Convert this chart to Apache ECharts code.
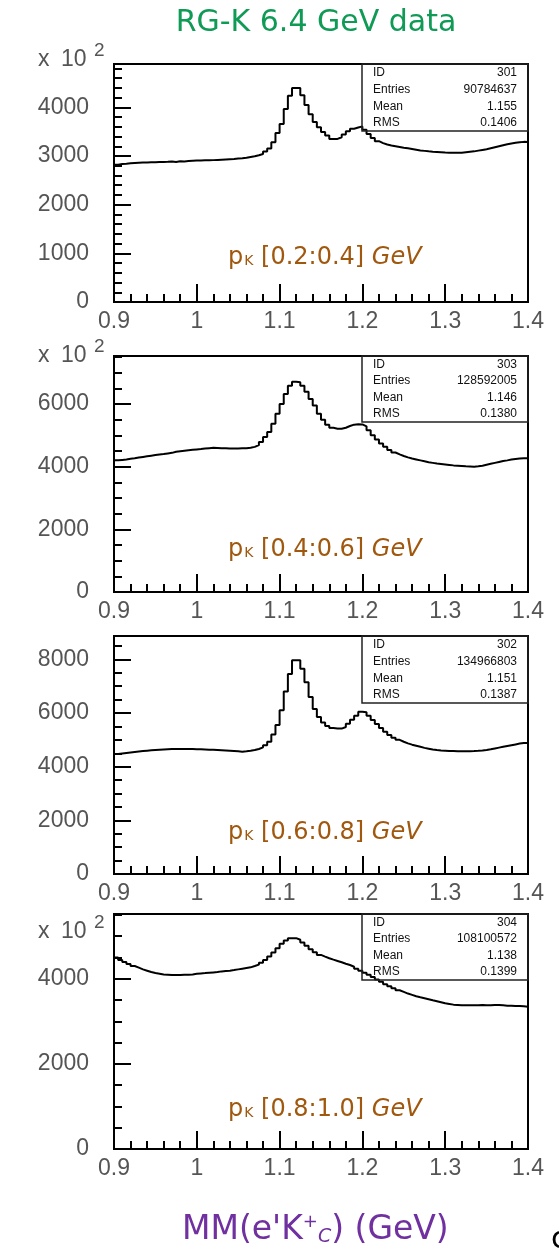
<!DOCTYPE html>
<html>
<head>
<meta charset="utf-8">
<script src="https://cdn.jsdelivr.net/npm/echarts@6/dist/echarts.min.js"></script>
<style>
  html, body { margin: 0; padding: 0; background: #fff; }
  #chart { width: 559px; height: 1248px; }
</style>
</head>
<body>
<div id="chart"></div>
<script>
// histogram binning (100 bins from 0.9 to 1.4 GeV)
const xMin = 0.9
const xMax = 1.4
const binWidth = 0.005

// counts per bin, in units of 10^2, one array per kaon momentum slice
const countsK0204 = [
  2820, 2835, 2840, 2850, 2855, 2860, 2865, 2868, 2870, 2872,
  2875, 2878, 2880, 2885, 2875, 2890, 2888, 2895, 2900, 2905,
  2908, 2910, 2912, 2915, 2920, 2925, 2930, 2935, 2940, 2948,
  2955, 2965, 2980, 2995, 3015, 3040, 3090, 3155, 3284, 3473,
  3655, 3966, 4236, 4399, 4399, 4250, 4047, 3858, 3696, 3588,
  3493, 3419, 3351, 3351, 3385, 3439, 3507, 3561, 3585, 3608,
  3540, 3453, 3372, 3304, 3264, 3236, 3215, 3200, 3185, 3170,
  3158, 3145, 3130, 3115, 3105, 3095, 3088, 3082, 3076, 3070,
  3068, 3065, 3068, 3065, 3075, 3085, 3095, 3110, 3125, 3140,
  3160, 3180, 3200, 3220, 3240, 3255, 3270, 3282, 3290, 3288
]
const countsK0406 = [
  4200, 4215, 4230, 4250, 4265, 4290, 4310, 4330, 4350, 4368,
  4385, 4400, 4420, 4440, 4474, 4490, 4505, 4520, 4535, 4548,
  4560, 4575, 4590, 4600, 4595, 4590, 4585, 4580, 4580, 4580,
  4585, 4590, 4600, 4630, 4684, 4790, 4948, 5106, 5369, 5685,
  6000, 6317, 6580, 6706, 6690, 6580, 6390, 6159, 5948, 5685,
  5495, 5337, 5242, 5211, 5211, 5242, 5295, 5340, 5350, 5348,
  5285, 5158, 5000, 4863, 4737, 4632, 4527, 4450, 4390, 4340,
  4295, 4260, 4230, 4200, 4170, 4140, 4120, 4100, 4085, 4070,
  4055, 4040, 4030, 4020, 4010, 4005, 4000, 4010, 4030, 4060,
  4090, 4120, 4150, 4180, 4200, 4225, 4245, 4260, 4266, 4266
]
const countsK0608 = [
  4470, 4490, 4510, 4530, 4550, 4565, 4580, 4595, 4610, 4620,
  4630, 4640, 4650, 4655, 4660, 4660, 4660, 4660, 4655, 4650,
  4645, 4640, 4635, 4630, 4625, 4615, 4605, 4595, 4585, 4575,
  4560, 4575, 4595, 4620, 4660, 4720, 4800, 4930, 5200, 5550,
  6100, 6800, 7450, 7970, 7970, 7650, 7150, 6600, 6150, 5850,
  5650, 5520, 5440, 5420, 5420, 5480, 5600, 5750, 5900, 6050,
  6030, 5900, 5740, 5590, 5440, 5300, 5180, 5080, 5000, 4930,
  4870, 4820, 4780, 4740, 4700, 4670, 4640, 4620, 4605, 4595,
  4585, 4580, 4575, 4575, 4575, 4575, 4580, 4590, 4605, 4625,
  4650, 4680, 4710, 4740, 4770, 4800, 4830, 4860, 4880, 4880
]
const countsK0810 = [
  4500, 4440, 4393, 4345, 4298, 4259, 4219, 4188, 4156, 4132,
  4117, 4101, 4093, 4085, 4085, 4085, 4093, 4093, 4101, 4117,
  4125, 4132, 4140, 4148, 4156, 4172, 4180, 4188, 4203, 4219,
  4235, 4251, 4267, 4298, 4330, 4377, 4440, 4519, 4614, 4716,
  4819, 4898, 4953, 4953, 4914, 4850, 4772, 4693, 4622, 4559,
  4519, 4480, 4448, 4417, 4385, 4353, 4322, 4282, 4235, 4188,
  4140, 4093, 4038, 3982, 3927, 3872, 3825, 3777, 3730, 3691,
  3651, 3620, 3588, 3564, 3541, 3517, 3493, 3470, 3446, 3422,
  3407, 3391, 3383, 3375, 3375, 3375, 3375, 3375, 3383, 3375,
  3375, 3383, 3383, 3375, 3367, 3367, 3360, 3360, 3352, 3343
]

// statistics box contents: ID, Entries, Mean, RMS
const statNames = ['ID', 'Entries', 'Mean', 'RMS']
const statsK0204 = ['301', '90784637', '1.155', '0.1406']
const statsK0406 = ['303', '128592005', '1.146', '0.1380']
const statsK0608 = ['302', '134966803', '1.151', '0.1387']
const statsK0810 = ['304', '108100572', '1.138', '0.1399']

// slice labels
const sliceRanges = ['[0.2:0.4]', '[0.4:0.6]', '[0.6:0.8]', '[0.8:1.0]']

// layout of the four pads
const panels = [
  { counts: countsK0204, stats: statsK0204, range: sliceRanges[0], top: 64, height: 238, yMax: 4890, yStep: 1000, yMinor: 200, labelY: 258, expY: 60 },
  { counts: countsK0406, stats: statsK0406, range: sliceRanges[1], top: 356, height: 236, yMax: 7530, yStep: 2000, yMinor: 500, labelY: 550, expY: 356 },
  { counts: countsK0608, stats: statsK0608, range: sliceRanges[2], top: 636, height: 238, yMax: 8870, yStep: 2000, yMinor: 500, labelY: 833, expY: null },
  { counts: countsK0810, stats: statsK0810, range: sliceRanges[3], top: 914, height: 235, yMax: 5520, yStep: 2000, yMinor: 500, labelY: 1110, expY: 932 }
]

const padLeft = 114
const padWidth = 414
const tickFont = 'Liberation Sans'
const tickColor = '#555'

const chart = echarts.init(document.getElementById('chart'), null, { renderer: 'canvas' })

const grids = []
const xAxes = []
const yAxes = []
const series = []
const graphics = []

function plainText(x, y, text, size, color, align, family) {
  return {
    type: 'text', x: x, y: y, z: 10,
    style: {
      text: text, fontSize: size, fontFamily: family || tickFont, fill: color,
      textAlign: align, textVerticalAlign: 'middle', verticalAlign: 'middle'
    }
  }
}

panels.forEach((p, k) => {
  grids.push({
    left: padLeft, top: p.top, width: padWidth, height: p.height,
    show: true, borderColor: '#000', borderWidth: 2, backgroundColor: 'transparent'
  })

  // major x ticks with labels
  xAxes.push({
    gridIndex: k, type: 'value', position: 'bottom',
    min: xMin, max: xMax, interval: 0.1,
    axisLine: { show: true, lineStyle: { color: '#000', width: 2 } },
    axisTick: { show: true, inside: true, length: 18, lineStyle: { color: '#000', width: 2 } },
    axisLabel: { show: true, margin: 8, fontSize: 23, fontFamily: tickFont, color: tickColor },
    splitLine: { show: false }
  })
  // minor x ticks
  xAxes.push({
    gridIndex: k, type: 'value', position: 'bottom',
    min: xMin, max: xMax, interval: 0.02,
    axisLine: { show: false },
    axisTick: { show: true, inside: true, length: 8, lineStyle: { color: '#000', width: 2 } },
    axisLabel: { show: false },
    splitLine: { show: false }
  })
  // major y ticks with labels
  yAxes.push({
    gridIndex: k, type: 'value', position: 'left',
    min: 0, max: p.yMax, interval: p.yStep,
    axisLine: { show: true, lineStyle: { color: '#000', width: 2 } },
    axisTick: { show: true, inside: true, length: 17, lineStyle: { color: '#000', width: 2 } },
    axisLabel: {
      show: true, margin: 25, fontSize: 23, fontFamily: tickFont, color: tickColor,
      formatter: v => (v % p.yStep === 0 ? String(v) : '')
    },
    splitLine: { show: false }
  })
  // minor y ticks
  yAxes.push({
    gridIndex: k, type: 'value', position: 'left',
    min: 0, max: p.yMax, interval: p.yMinor,
    axisLine: { show: false },
    axisTick: { show: true, inside: true, length: 8, lineStyle: { color: '#000', width: 2 } },
    axisLabel: { show: false },
    splitLine: { show: false }
  })

  const data = p.counts.map((v, i) => [+(xMin + i * binWidth).toFixed(3), v])
  data.push([xMax, p.counts[p.counts.length - 1]])
  series.push({
    type: 'line', step: 'end', xAxisIndex: 2 * k, yAxisIndex: 2 * k,
    data: data, symbol: 'none', silent: true,
    lineStyle: { color: '#000', width: 2 }
  })

  // statistics box
  const boxLeft = padLeft + Math.round(padWidth * 0.6)
  const boxH = Math.round(p.height * 0.28)
  graphics.push({
    type: 'rect',
    shape: { x: boxLeft, y: p.top, width: padLeft + padWidth - boxLeft, height: boxH },
    style: { fill: 'none', stroke: '#222', lineWidth: 1.5 },
    z: 10
  })
  statNames.forEach((name, r) => {
    const ry = p.top + boxH * (0.13 + 0.25 * r)
    graphics.push(plainText(boxLeft + 11, ry, name, 12, '#111', 'left'))
    graphics.push(plainText(padLeft + padWidth - 11, ry, p.stats[r], 12, '#111', 'right'))
  })

  // momentum slice label
  graphics.push({
    type: 'text', x: 228, y: p.labelY, z: 10,
    style: {
      text: '{p|p}{k|K} ' + p.range + ' {g|GeV}',
      fontSize: 24, fontFamily: 'DejaVu Sans', fill: '#a0580e',
      textAlign: 'left', textVerticalAlign: 'middle', verticalAlign: 'middle',
      rich: {
        p: { fontSize: 24, fontFamily: 'DejaVu Sans', fill: '#a0580e' },
        k: { fontSize: 14, fontFamily: 'DejaVu Sans', fill: '#a0580e', verticalAlign: 'bottom', padding: [0, 0, 2, 1] },
        g: { fontSize: 24, fontFamily: 'DejaVu Sans', fontStyle: 'italic', fill: '#a0580e' }
      }
    }
  })

  // x 10^2 exponent
  if (p.expY !== null) {
    graphics.push(plainText(38, p.expY, 'x', 23, tickColor, 'left'))
    graphics.push(plainText(61, p.expY, '10', 23, tickColor, 'left'))
    graphics.push(plainText(94, p.expY - 9, '2', 19, tickColor, 'left'))
  }
})

// page title and common x-axis title
graphics.push(plainText(316, 23, 'RG-K 6.4 GeV data', 30, '#0f9a55', 'center', 'DejaVu Sans'))
graphics.push({
  type: 'text', x: 182, y: 1230,
  style: {
    text: "MM(e'K{sup|+}{sub|C}) (GeV)",
    fontSize: 33, fontFamily: 'DejaVu Sans', fill: '#7030a0',
    textAlign: 'left', textVerticalAlign: 'middle', verticalAlign: 'middle',
    rich: {
      sup: { fontSize: 18, fontFamily: 'DejaVu Sans', fill: '#7030a0', verticalAlign: 'top' },
      sub: { fontSize: 19, fontFamily: 'DejaVu Sans', fontStyle: 'italic', fill: '#7030a0', verticalAlign: 'bottom' }
    }
  }
})
graphics.push(plainText(551, 1240, 'c', 30, '#000', 'left', 'DejaVu Sans'))

chart.setOption({
  animation: false,
  backgroundColor: '#fff',
  grid: grids,
  xAxis: xAxes,
  yAxis: yAxes,
  series: series,
  graphic: graphics
})
</script>
</body>
</html>
